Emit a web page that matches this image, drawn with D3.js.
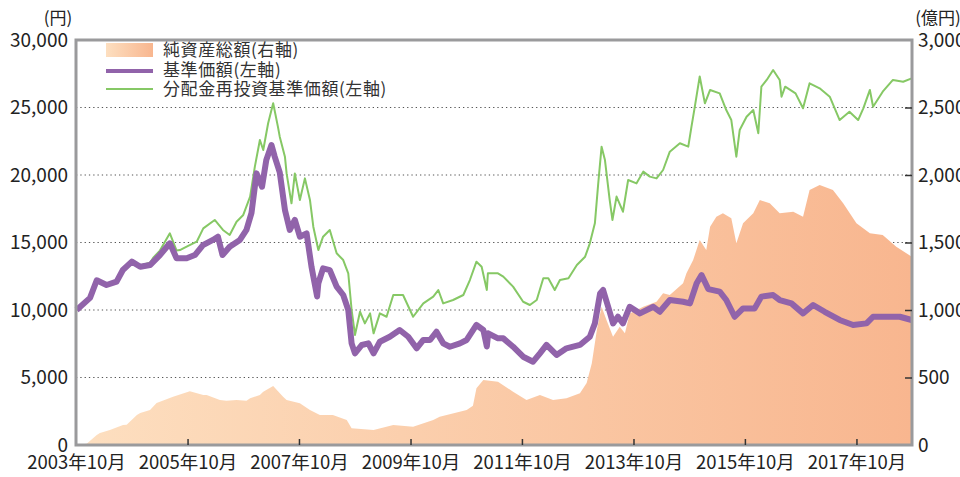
<!DOCTYPE html>
<html lang="ja">
<head>
<meta charset="UTF-8">
<title>基準価額・純資産総額の推移</title>
<script src="https://d3js.org/d3.v7.min.js"></script>
<style>
    body { margin: 0; background: #fff; }
    svg { display: block; font-family: "Noto Sans CJK JP", "Noto Sans", sans-serif; }
</style>
</head>
<body>
<script>
// 純資産総額（億円, 右軸）
const navDates = ["2003-10-01","2003-12-10","2004-02-14","2004-03-06","2004-05-10","2004-08-04","2004-08-28","2004-11-03","2004-11-25","2005-01-28","2005-03-12","2005-04-03","2005-06-28","2005-10-16","2006-01-12","2006-02-03","2006-05-01","2006-06-13","2006-08-18","2006-10-22","2006-11-15","2007-01-18","2007-02-09","2007-04-15","2007-06-19","2007-07-12","2007-10-07","2007-12-12","2008-02-15","2008-05-10","2008-08-09","2008-09-10","2009-02-01","2009-06-10","2009-10-18","2010-02-27","2010-04-10","2010-10-04","2010-11-14","2010-12-07","2011-01-21","2011-04-27","2011-08-04","2011-10-31","2012-01-27","2012-04-22","2012-07-19","2012-10-15","2012-11-28","2013-01-01","2013-02-03","2013-03-06","2013-04-07","2013-05-20","2013-07-03","2013-08-06","2013-09-06","2013-12-04","2014-03-01","2014-04-13","2014-05-27","2014-08-22","2014-09-13","2014-10-27","2014-12-09","2015-01-21","2015-02-15","2015-03-28","2015-05-10","2015-07-04","2015-08-06","2015-09-19","2015-11-25","2016-01-07","2016-03-12","2016-05-16","2016-08-13","2016-10-16","2016-11-28","2017-02-02","2017-04-30","2017-07-06","2017-10-01","2017-12-28","2018-03-22","2018-06-19","2018-09-28"];
const navValues = [0,10,74,89,111,148,150,222,237,259,311,321,358,398,370,370,333,328,333,328,346,370,395,437,358,333,309,259,222,222,185,124,111,148,136,185,210,259,290,420,481,469,395,333,370,333,346,383,460,605,852,1024,926,802,876,827,975,1024,1062,1124,1111,1198,1272,1370,1519,1444,1617,1691,1716,1679,1494,1642,1716,1815,1790,1716,1728,1691,1889,1926,1889,1790,1642,1568,1556,1469,1395];

// 基準価額（円, 左軸）
const priceDates = ["2003-10-05","2004-01-01","2004-02-14","2004-04-18","2004-06-23","2004-08-03","2004-10-01","2004-11-25","2005-01-28","2005-04-03","2005-06-07","2005-07-21","2005-09-25","2005-11-18","2006-01-10","2006-03-16","2006-04-18","2006-05-18","2006-07-04","2006-09-09","2006-10-22","2006-11-24","2006-12-27","2007-02-01","2007-03-01","2007-04-04","2007-04-25","2007-05-28","2007-07-01","2007-08-02","2007-09-04","2007-10-07","2007-11-20","2007-12-22","2008-01-28","2008-02-05","2008-03-07","2008-04-20","2008-06-04","2008-07-17","2008-08-19","2008-09-10","2008-10-02","2008-11-16","2008-12-29","2009-02-01","2009-03-14","2009-05-18","2009-07-22","2009-09-16","2009-11-10","2009-12-24","2010-02-06","2010-03-20","2010-05-03","2010-06-16","2010-08-21","2010-10-04","2010-12-07","2011-01-21","2011-02-13","2011-02-22","2011-04-27","2011-06-01","2011-08-04","2011-10-09","2011-12-13","2012-01-27","2012-03-10","2012-05-15","2012-07-19","2012-10-15","2012-12-19","2013-01-21","2013-02-24","2013-03-16","2013-04-18","2013-05-20","2013-06-21","2013-07-24","2013-09-06","2013-11-12","2014-02-08","2014-03-22","2014-05-27","2014-08-22","2014-10-06","2014-11-19","2014-12-21","2015-02-03","2015-04-19","2015-06-01","2015-07-26","2015-09-19","2015-12-04","2016-01-17","2016-04-03","2016-05-16","2016-08-01","2016-10-16","2016-12-21","2017-03-07","2017-06-13","2017-09-09","2017-12-06","2018-01-18","2018-04-15","2018-07-12","2018-09-28"];
const priceValues = [10000,10900,12200,11850,12100,12960,13580,13200,13330,14070,14940,13830,13830,14070,14800,15190,15430,14070,14690,15190,15930,17190,20120,19130,21110,22220,21360,20200,17410,15930,16670,15430,15680,13210,11000,11980,13090,12960,11730,11110,10000,7530,6790,7410,7530,6790,7650,8020,8520,8020,7160,7780,7780,8390,7530,7280,7530,7780,8890,8520,7300,8270,7900,7900,7280,6540,6170,6790,7410,6670,7160,7410,8020,9010,11230,11480,10240,9010,9500,9010,10240,9750,10240,9870,10740,10610,10490,11980,12590,11550,11360,10740,9500,10120,10120,10990,11110,10740,10490,9750,10370,9870,9260,8890,9010,9500,9500,9500,9260];

// 分配金再投資基準価額（円, 左軸）
const reinvDates = ["2003-10-05","2004-01-01","2004-02-14","2004-04-18","2004-06-23","2004-08-03","2004-10-01","2004-11-25","2005-01-28","2005-02-20","2005-04-03","2005-06-07","2005-07-21","2005-08-12","2005-09-25","2005-11-30","2006-01-12","2006-03-28","2006-05-21","2006-07-04","2006-08-18","2006-10-01","2006-11-15","2006-12-16","2007-01-18","2007-02-09","2007-03-13","2007-04-15","2007-05-16","2007-05-28","2007-07-01","2007-07-12","2007-08-13","2007-09-04","2007-10-07","2007-11-09","2007-12-12","2008-01-03","2008-02-05","2008-03-07","2008-04-20","2008-06-04","2008-07-17","2008-08-19","2008-09-10","2008-10-02","2008-11-04","2008-12-06","2009-01-09","2009-02-01","2009-03-14","2009-04-27","2009-06-10","2009-08-13","2009-10-18","2009-12-24","2010-02-27","2010-04-01","2010-05-03","2010-07-07","2010-09-12","2010-10-25","2010-12-07","2011-01-10","2011-02-13","2011-02-20","2011-04-27","2011-06-01","2011-08-04","2011-10-09","2011-11-22","2012-01-06","2012-02-18","2012-03-22","2012-05-03","2012-06-06","2012-08-01","2012-09-25","2012-11-18","2012-12-19","2013-01-21","2013-02-12","2013-03-06","2013-03-28","2013-04-28","2013-05-16","2013-06-12","2013-07-24","2013-08-27","2013-10-21","2013-12-04","2014-01-16","2014-03-01","2014-04-13","2014-05-27","2014-08-01","2014-09-25","2014-10-16","2014-11-07","2014-12-09","2015-01-12","2015-02-15","2015-04-19","2015-06-01","2015-07-04","2015-08-06","2015-08-28","2015-10-12","2015-11-25","2015-12-28","2016-01-17","2016-02-21","2016-04-03","2016-05-16","2016-05-28","2016-06-21","2016-08-28","2016-10-16","2016-11-28","2017-02-02","2017-04-09","2017-06-13","2017-08-16","2017-10-12","2017-11-15","2017-12-28","2018-01-18","2018-03-22","2018-05-28","2018-08-03","2018-09-28"];
const reinvValues = [10000,10900,12200,11850,12100,12960,13580,13300,13500,13900,14400,15680,14400,14440,14690,15060,16050,16670,15930,15560,16540,17040,18400,20620,22590,21850,23830,25310,23580,22840,21360,20120,17900,20120,18150,19750,18150,16170,14440,15430,15930,14200,13700,12720,10000,8150,9870,9010,9750,8270,9750,9500,11110,11110,9500,10490,10990,11480,10490,10740,11110,12220,13580,13210,11480,12720,12720,12470,11730,10610,10370,10740,12350,12350,11480,12220,12350,13330,13950,14940,16420,19380,22100,21110,18150,16670,18400,17280,19630,19380,20250,19880,19750,20370,21730,22350,22100,23580,25060,27300,25310,26300,26050,24810,24070,21360,23330,24320,24810,23090,26540,27040,27780,27040,25800,26540,26050,24940,26790,26420,25800,24070,24690,24070,24940,26300,25060,26170,27040,26910,27160];

const leftTicks = [0, 5000, 10000, 15000, 20000, 25000, 30000];
const rightTicks = [0, 500, 1000, 1500, 2000, 2500, 3000];
const xTickDates = ["2003-10-01","2005-10-01","2007-10-01","2009-10-01","2011-10-01","2013-10-01","2015-10-01","2017-10-01"];
const legendLabels = ["純資産総額(右軸)", "基準価額(左軸)", "分配金再投資基準価額(左軸)"];

const W = 960, H = 477;
const L = 76, R = 912, T = 40, B = 445;
const parse = d3.timeParse("%Y-%m-%d");

const svg = d3.select("body").append("svg").attr("width", W).attr("height", H);

const x = d3.scaleTime().domain([parse("2003-10-01"), parse("2018-09-30")]).range([L, R]);
const yL = d3.scaleLinear().domain([0, 30000]).range([B, T]);
const yR = d3.scaleLinear().domain([0, 3000]).range([B, T]);

const nav = navDates.map((d, i) => ({date: parse(d), v: navValues[i]}));
const price = priceDates.map((d, i) => ({date: parse(d), v: priceValues[i]}));
const reinv = reinvDates.map((d, i) => ({date: parse(d), v: reinvValues[i]}));

// gradients (area + legend swatch)
const defs = svg.append("defs");
const grad = defs.append("linearGradient").attr("id", "navGrad")
    .attr("gradientUnits", "userSpaceOnUse")
    .attr("x1", L).attr("x2", R).attr("y1", 0).attr("y2", 0);
grad.append("stop").attr("offset", 0).attr("stop-color", "#fddfc0");
grad.append("stop").attr("offset", 1).attr("stop-color", "#f8b68f");
const lgrad = defs.append("linearGradient").attr("id", "legGrad");
lgrad.append("stop").attr("offset", 0).attr("stop-color", "#fddfc0");
lgrad.append("stop").attr("offset", 1).attr("stop-color", "#f8b68f");

// dotted grid
svg.append("g").selectAll("line")
    .data(leftTicks.filter(d => d > 0 && d < 30000))
    .join("line")
    .attr("x1", L).attr("x2", R)
    .attr("y1", d => yL(d)).attr("y2", d => yL(d))
    .attr("stroke", "#555").attr("stroke-width", 1.2)
    .attr("stroke-dasharray", "1.3,3");

// area
svg.append("path").datum(nav)
    .attr("fill", "url(#navGrad)")
    .attr("d", d3.area().x(d => x(d.date)).y0(B).y1(d => yR(d.v)));

// lines
svg.append("path").datum(reinv)
    .attr("fill", "none").attr("stroke", "#86c865").attr("stroke-width", 2)
    .attr("stroke-linejoin", "round")
    .attr("d", d3.line().x(d => x(d.date)).y(d => yL(d.v)));

svg.append("path").datum(price)
    .attr("fill", "none").attr("stroke", "#9163aa").attr("stroke-width", 6)
    .attr("stroke-linejoin", "round")
    .attr("d", d3.line().x(d => x(d.date)).y(d => yL(d.v)));

// frame
svg.append("rect").attr("x", L).attr("y", T).attr("width", R - L).attr("height", B - T)
    .attr("fill", "none").attr("stroke", "#9a9a9c").attr("stroke-width", 3);

// axes
const fmt = d3.format(",");
const gl = svg.append("g").attr("transform", `translate(${L},0)`)
    .call(d3.axisLeft(yL).tickValues(leftTicks).tickSize(0).tickPadding(8).tickFormat(fmt));
const gr = svg.append("g").attr("transform", `translate(${R},0)`)
    .call(d3.axisRight(yR).tickValues(rightTicks).tickSizeInner(-7).tickSizeOuter(0).tickPadding(6).tickFormat(fmt));
const gb = svg.append("g").attr("transform", `translate(0,${B})`)
    .call(d3.axisBottom(x).tickValues(xTickDates.map(parse)).tickSizeInner(-6).tickSizeOuter(0).tickPadding(11)
        .tickFormat(d3.timeFormat("%Y年%m月")));

[gl, gr, gb].forEach(g => {
    g.select(".domain").remove();
    g.selectAll("text").attr("fill", "#222").style("font-size", "19px")
        .style("font-family", "'Noto Sans CJK JP', 'Noto Sans', sans-serif");
    g.selectAll(".tick line").attr("stroke", "#333").attr("stroke-width", 1.5);
});
gb.selectAll("text").style("font-size", "18.5px");
gr.selectAll(".tick").filter(d => d === 0 || d === 3000).select("line").remove();
gb.selectAll(".tick").filter((d, i) => i === 0).select("line").remove();

// unit labels
svg.append("text").attr("x", 58).attr("y", 24).attr("text-anchor", "middle")
    .attr("fill", "#222").style("font-size", "17px").text("(円)");
svg.append("text").attr("x", 938).attr("y", 24).attr("text-anchor", "middle")
    .attr("fill", "#222").style("font-size", "17px").text("(億円)");

// legend
const lg = svg.append("g").attr("transform", "translate(106,0)");
lg.append("rect").attr("x", 0).attr("y", 43).attr("width", 47).attr("height", 14).attr("fill", "url(#legGrad)");
lg.append("line").attr("x1", 0).attr("x2", 47).attr("y1", 71).attr("y2", 71)
    .attr("stroke", "#9163aa").attr("stroke-width", 4);
lg.append("line").attr("x1", 0).attr("x2", 47).attr("y1", 89).attr("y2", 89)
    .attr("stroke", "#86c865").attr("stroke-width", 2);
lg.selectAll("text").data(legendLabels).join("text")
    .attr("x", 57).attr("y", (d, i) => [50, 70, 89][i]).attr("dy", "0.35em")
    .attr("fill", "#333").style("font-size", "17px").style("letter-spacing", "0.6px").text(d => d);
</script>
</body>
</html>
